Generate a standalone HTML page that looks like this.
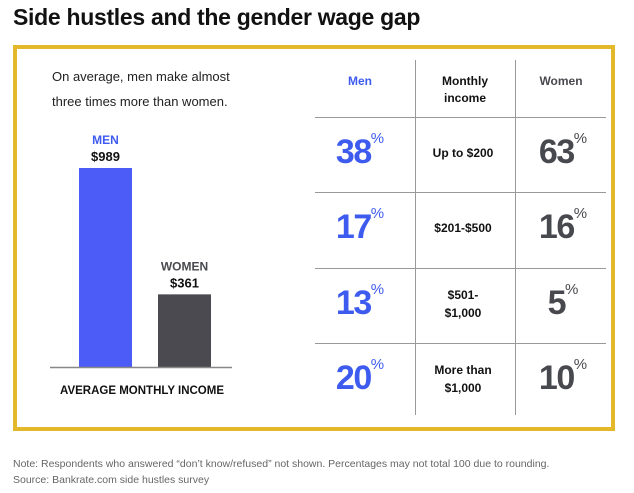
<!DOCTYPE html>
<html><head><meta charset="utf-8"><style>
body{margin:0;width:634px;height:493px;background:#fff;font-family:"Liberation Sans",sans-serif;position:relative;overflow:hidden}
.a{position:absolute}
.t{color:#111;font-weight:bold;font-size:23px;left:13px;top:4px;letter-spacing:-0.3px}
.box{left:13px;top:45px;width:594px;height:378px;border:4px solid #e3b82a}
.hl{height:1px;background:#999;left:315px;width:291px}
.vl{width:1px;background:#999;top:60px;height:355px}
.big{font-weight:bold;font-size:34px;letter-spacing:-1.5px;text-align:center;width:100px}
.big sup{font-size:15px;font-weight:normal;vertical-align:top;position:relative;top:-3px;letter-spacing:0}
.m{color:#3e5bf0}.w{color:#48494e}
.mid{font-weight:bold;font-size:12px;text-align:center;width:100px;color:#111;line-height:18px}
.hd{font-weight:bold;font-size:12px;text-align:center;width:100px;line-height:17px}
</style></head><body>
<div class="a t">Side hustles and the gender wage gap</div>
<div class="a box"></div>
<div class="a" style="left:52px;top:64px;font-size:13px;line-height:25px;color:#222">On average, men make almost<br>three times more than women.</div>
<svg class="a" style="left:0;top:0" width="634" height="493" id="bc"></svg>
<div class="a" style="left:52px;top:385px;width:180px;text-align:center;font-size:11.5px;font-weight:bold;color:#111">AVERAGE MONTHLY INCOME</div>

<div class="a vl" style="left:415px"></div>
<div class="a vl" style="left:515px"></div>
<div class="a hl" style="top:117px"></div>
<div class="a hl" style="top:192px"></div>
<div class="a hl" style="top:268px"></div>
<div class="a hl" style="top:343px"></div>
<div class="a hd m" style="left:310px;top:73px">Men</div>
<div class="a hd" style="left:415px;top:73px;color:#111">Monthly<br>income</div>
<div class="a hd w" style="left:511px;top:73px">Women</div>
<div id="rows"></div>
<div class="a" style="left:13px;top:456px;font-size:10.5px;color:#666;line-height:16px">Note: Respondents who answered “don’t know/refused” not shown. Percentages may not total 100 due to rounding.<br>Source: Bankrate.com side hustles survey</div>
<script>
const barLabels=["MEN","WOMEN"];
const barValues=[989,361];
const rowIncome=["Up to $200","$201-$500","$501-<br>$1,000","More than<br>$1,000"];
const menPct=[38,17,13,20];
const womenPct=[63,16,5,10];
const NS="http://www.w3.org/2000/svg";
const svg=document.getElementById('bc');
const base=367,maxH=199,maxV=989;
const y=v=>base-v/maxV*maxH;
const colors=["#4b5cf7","#4a4a50"],lblC=["#3e5bf0","#48494e"];
barValues.forEach((v,i)=>{
 const x=79+i*79;
 const r=document.createElementNS(NS,'rect');
 r.setAttribute('x',x);r.setAttribute('y',y(v));r.setAttribute('width',53);r.setAttribute('height',base-y(v));r.setAttribute('fill',colors[i]);
 
 
 svg.appendChild(r);
 const t1=document.createElementNS(NS,'text');
 t1.setAttribute('x',x+26.5);t1.setAttribute('y',y(v)-24);t1.setAttribute('text-anchor','middle');t1.setAttribute('font-size','12');t1.setAttribute('font-weight','bold');t1.setAttribute('fill',lblC[i]);t1.textContent=barLabels[i];
 
 
 svg.appendChild(t1);
 const t2=document.createElementNS(NS,'text');
 t2.setAttribute('x',x+26.5);t2.setAttribute('y',y(v)-7);t2.setAttribute('text-anchor','middle');t2.setAttribute('font-size','13');t2.setAttribute('font-weight','bold');t2.setAttribute('fill','#111');t2.textContent='$'+v;
 
 
 svg.appendChild(t2);
});
const bl=document.createElementNS(NS,'line');
bl.setAttribute('x1',50);bl.setAttribute('x2',232);bl.setAttribute('y1',base+0.5);bl.setAttribute('y2',base+0.5);bl.setAttribute('stroke','#888');bl.setAttribute('stroke-width','1.5');


svg.appendChild(bl);
const rows=document.getElementById('rows');
const tops=[117,192,268,343],rh=75;
rowIncome.forEach((inc,i)=>{
 const cy=tops[i]+rh/2;
 const m=document.createElement('div');m.className='a big m';m.style.left='310px';m.style.top=(cy-22)+'px';m.innerHTML=menPct[i]+'<sup>%</sup>';
 
 
 rows.appendChild(m);
 const w=document.createElement('div');w.className='a big w';w.style.left='513px';w.style.top=(cy-22)+'px';w.innerHTML=womenPct[i]+'<sup>%</sup>';
 
 
 rows.appendChild(w);
 const c=document.createElement('div');c.className='a mid';c.style.left='413px';
 const two=inc.indexOf('<br>')>=0;c.style.top=(cy-(two?20:11))+'px';c.innerHTML=inc;
 
 
 rows.appendChild(c);
});
</script>
</body></html>
